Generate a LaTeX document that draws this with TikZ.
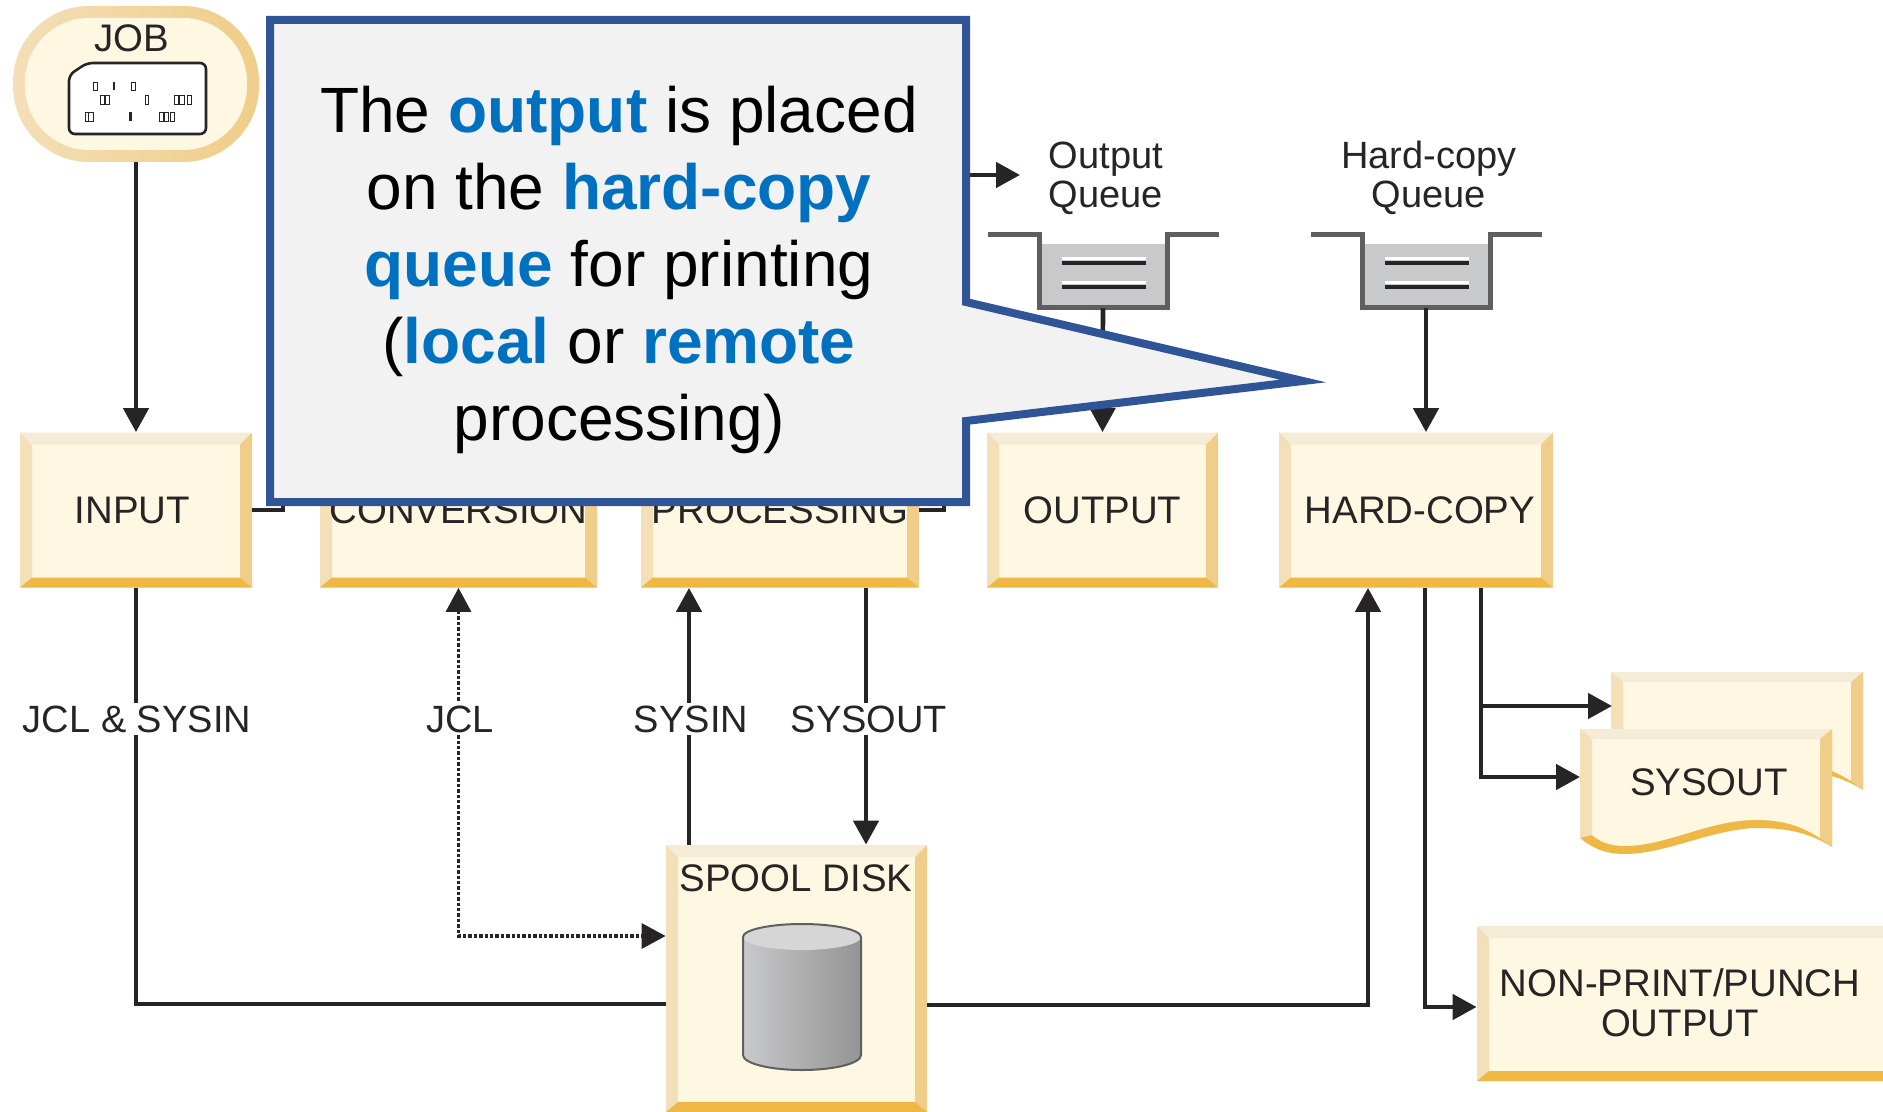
\documentclass[tikz,border=0pt]{standalone}
\usepackage{fontspec}
\setmainfont{Liberation Sans}
\usetikzlibrary{arrows.meta}

\definecolor{ink}{HTML}{262425}
\definecolor{boxfill}{HTML}{FEF8E3}
\definecolor{bevelleft}{HTML}{F3DFB8}
\definecolor{beveltop}{HTML}{F5ECD8}
\definecolor{bevelright}{HTML}{F0CD88}
\definecolor{bevelbottom}{HTML}{EFB845}
\definecolor{queuefill}{HTML}{C8C9CB}
\definecolor{queueline}{HTML}{5F5F5F}
\definecolor{calloutblue}{HTML}{2F5597}
\definecolor{calloutfill}{HTML}{F2F2F2}
\definecolor{keyword}{HTML}{0070C0}

\newcommand{\boxfont}{\fontsize{19.2pt}{20pt}\selectfont}
\newcommand{\keyw}[1]{\textcolor{keyword}{\textbf{#1}}}

\begin{document}
\begin{tikzpicture}[x=0.5pt,y=-0.5pt]

% definitions
\tikzstyle{bevelbox} = [rectangle, inner sep=0pt, fill=boxfill, text=ink, font=\boxfont, align=center,
  path picture={
    \def\pp{path picture bounding box}
    \fill[bevelleft] (\pp.north west) -- ([shift={(6pt,-6pt)}]\pp.north west) -- ([shift={(6pt,5pt)}]\pp.south west) -- (\pp.south west) -- cycle;
    \fill[beveltop] (\pp.north west) -- ([shift={(6pt,-6pt)}]\pp.north west) -- ([shift={(-6pt,-6pt)}]\pp.north east) -- (\pp.north east) -- cycle;
    \fill[bevelright] (\pp.north east) -- ([shift={(-6pt,-6pt)}]\pp.north east) -- ([shift={(-6pt,5pt)}]\pp.south east) -- (\pp.south east) -- cycle;
    \fill[bevelbottom] (\pp.south west) -- ([shift={(6pt,5pt)}]\pp.south west) -- ([shift={(-6pt,5pt)}]\pp.south east) -- (\pp.south east) -- cycle;
  }]
\tikzstyle{textlabel} = [inner sep=0pt, text=ink, font=\boxfont, align=center]
\tikzstyle{flowlabel} = [inner sep=1.5pt, fill=white, text=ink, font=\fontsize{19pt}{20pt}\selectfont]
\tikzstyle{queuebasin} = [rectangle, inner sep=0pt, minimum width=64pt, minimum height=32pt, fill=queuefill]
\tikzstyle{flow} = [line width=2.3pt, draw=ink]
\tikzstyle{arrow} = [flow, -{Triangle[length=12pt,width=12.5pt]}]
\tikzstyle{dotarrow} = [line width=1.7pt, draw=ink, densely dotted, {Triangle[length=12pt,width=12.5pt]}-{Triangle[length=12pt,width=12.5pt]}]

\useasboundingbox (0,0) rectangle (1883,1112);
\clip (0,0) rectangle (1883,1112);

% the job
\node (job) [rectangle, rounded corners=38pt, minimum width=123pt, minimum height=78pt, inner sep=0pt, left color=bevelleft, right color=bevelright] at (136,84) {};
\node (jobinner) [rectangle, rounded corners=32pt, minimum width=111pt, minimum height=66pt, inner sep=0pt, fill=boxfill] at (136,84) {};
\node (joblabel) [textlabel] at (132,38) {JOB};
\draw [draw=ink, line width=1.3pt, fill=white, rounded corners=3pt] (69,75) -- (87,63) -- (206,63) -- (206,134) -- (69,134) -- cycle;
\foreach \xa/\xb in {93/97,131/135}
  \draw [draw=ink, line width=0.4pt] (\xa,82) rectangle (\xb,90);
\fill [ink] (113,82) rectangle (115,90);
\foreach \xa/\xb in {100/104,105/109,145/148,174/178,179/184,187/191}
  \draw [draw=ink, line width=0.4pt] (\xa,95) rectangle (\xb,104);
\foreach \xa/\xb in {85/88,88/93,159/163,164/168,170/174}
  \draw [draw=ink, line width=0.4pt] (\xa,112) rectangle (\xb,121);
\fill [ink] (129,112) rectangle (132,121);

% the stages
\node (input) [bevelbox, minimum width=116pt, minimum height=77.5pt] at (136,510) {INPUT\kern3.6pt};
\node (conversion) [bevelbox, minimum width=138.5pt, minimum height=77.5pt] at (458.5,510) {CONVERSION};
\node (processing) [bevelbox, minimum width=139pt, minimum height=77.5pt] at (780,510) {PROCESSING};
\node (output) [bevelbox, minimum width=115.5pt, minimum height=77.5pt] at (1102.5,510) {OUTPUT};
\node (hardcopy) [bevelbox, minimum width=137pt, minimum height=77.5pt] at (1416,510) {\kern4pt HARD-COPY};
\node (nonprint) [bevelbox, minimum width=211.5pt, minimum height=77.5pt] at (1688.5,1003.5) {};
\node (nonprintlabel) [textlabel] at (1680,1003) {NON-PRINT/PUNCH\\OUTPUT};

% the spool disk
\node (spool) [bevelbox, minimum width=130.5pt, minimum height=133.5pt] at (796.5,978.5) {};
\node (spoollabel) [textlabel] at (796,878) {SPOOL DISK};
\shade [left color=queuefill, right color=black!42] (743,937) -- (743,1055) arc[start angle=180, end angle=360, x radius=29.5pt, y radius=7.5pt] -- (861,937) -- cycle;
\fill [black!16] (802,937) ellipse [x radius=29.5pt, y radius=6.5pt];
\draw [draw=queueline, line width=1pt] (743,937) -- (743,1055) arc[start angle=180, end angle=360, x radius=29.5pt, y radius=7.5pt] -- (861,937) arc[start angle=0, end angle=180, x radius=29.5pt, y radius=6.5pt];

% the queues
\node (outqueue) [queuebasin] at (1103,276) {};
\node (hcqueue) [queuebasin] at (1426,276) {};
\foreach \qx in {0,323} {
  \draw [draw=queueline, line width=2.5pt] (988+\qx,235) -- (1039+\qx,235) -- (1039+\qx,308) -- (1167+\qx,308) -- (1167+\qx,235) -- (1219+\qx,235);
  \foreach \qy in {263,287} {
    \draw [draw=white, line width=1.5pt] (1062+\qx,\qy-4) -- (1146+\qx,\qy-4);
    \draw [draw=ink, line width=2pt] (1062+\qx,\qy) -- (1146+\qx,\qy);
  }
}
\node (outqueuelabel) [textlabel, font=\fontsize{19pt}{19.5pt}\selectfont] at (1106,178) {Output\\Queue};
\node (hcqueuelabel) [textlabel, font=\fontsize{19pt}{19.5pt}\selectfont] at (1429,178) {Hard-copy\\Queue};

% the sysout sheets
\foreach \dx/\dy in {31/-57,0/0} {
  \begin{scope}[shift={(\dx,\dy)}]
    \fill [bevelbottom] (1580,729) -- (1832,729) -- (1832,847) .. controls (1805,830) and (1780,828) .. (1755,828) .. controls (1710,830) and (1665,854) .. (1625,854) .. controls (1605,854) and (1592,848) .. (1580,838) -- cycle;
    \fill [boxfill] (1592,739) -- (1820,739) -- (1820,838) .. controls (1795,822) and (1775,820) .. (1755,820) .. controls (1710,820) and (1665,846) .. (1625,846) .. controls (1610,846) and (1600,842) .. (1592,835) -- cycle;
    \fill [bevelleft] (1580,729) -- (1592,739) -- (1592,835) -- (1580,838) -- cycle;
    \fill [bevelright] (1832,729) -- (1820,739) -- (1820,838) -- (1832,847) -- cycle;
    \fill [beveltop] (1580,729) -- (1832,729) -- (1820,739) -- (1592,739) -- cycle;
  \end{scope}
}
\node (sysout) [textlabel] at (1709,782) {SYSOUT};
\coordinate (sysoutback) at (1612,706);
\coordinate (sysoutfront) at (1580,777);

% the connectors
\coordinate (queuetip) at (1020,175);
\draw [arrow] (job.south) -- (input.north);
\draw [flow] (input.east) -- (283,510) -- (283,420);
\draw [arrow] (processing.east) -- (944,510) |- (queuetip);
\draw [arrow] (outqueue.south) -- (output.north);
\draw [arrow] (hcqueue.south) -- (hcqueue.south |- hardcopy.north);
\draw [flow] (input.south) |- ([yshift=-12.75pt]spool.west);
\draw [dotarrow] (conversion.south) |- ([yshift=21.25pt]spool.west);
\draw [arrow] ([xshift=-53.75pt]spool.north) -- ([xshift=-45.5pt]processing.south);
\draw [arrow] ([xshift=43pt]processing.south) -- ([xshift=34.75pt]spool.north);
\draw [arrow] ([yshift=-13.25pt]spool.east) -| ([xshift=-24pt]hardcopy.south);
\draw [arrow] ([xshift=4.5pt]hardcopy.south) |- ([yshift=-1.75pt]nonprint.west);
\draw [arrow] ([xshift=32.5pt]hardcopy.south) |- (sysoutfront);
\draw [arrow] ([xshift=32.5pt]hardcopy.south) |- (sysoutback);

% the labels on the connectors
\node (jclsysin) [flowlabel] at (137,719) {JCL \& SYSIN};
\node (jcl) [flowlabel] at (460,719) {JCL};
\node (sysin) [flowlabel] at (691,719) {SYSIN};
\node (sysoutlabel) [flowlabel] at (869,719) {SYSOUT};

% the callout
\draw [draw=calloutblue, fill=calloutfill, line width=4pt, miter limit=20] (270,20) -- (966,20) -- (966,302) -- (1303,381) -- (966,421) -- (966,502) -- (270,502) -- cycle;
\node (callouttext) [inner sep=0pt, align=center, text=black, font=\fontsize{32pt}{38.5pt}\selectfont] at (619,270) {The \keyw{output} is placed\\on the \keyw{hard-copy}\\\keyw{queue} for printing\\(\keyw{local} or \keyw{remote}\\processing)};

\end{tikzpicture}
\end{document}
